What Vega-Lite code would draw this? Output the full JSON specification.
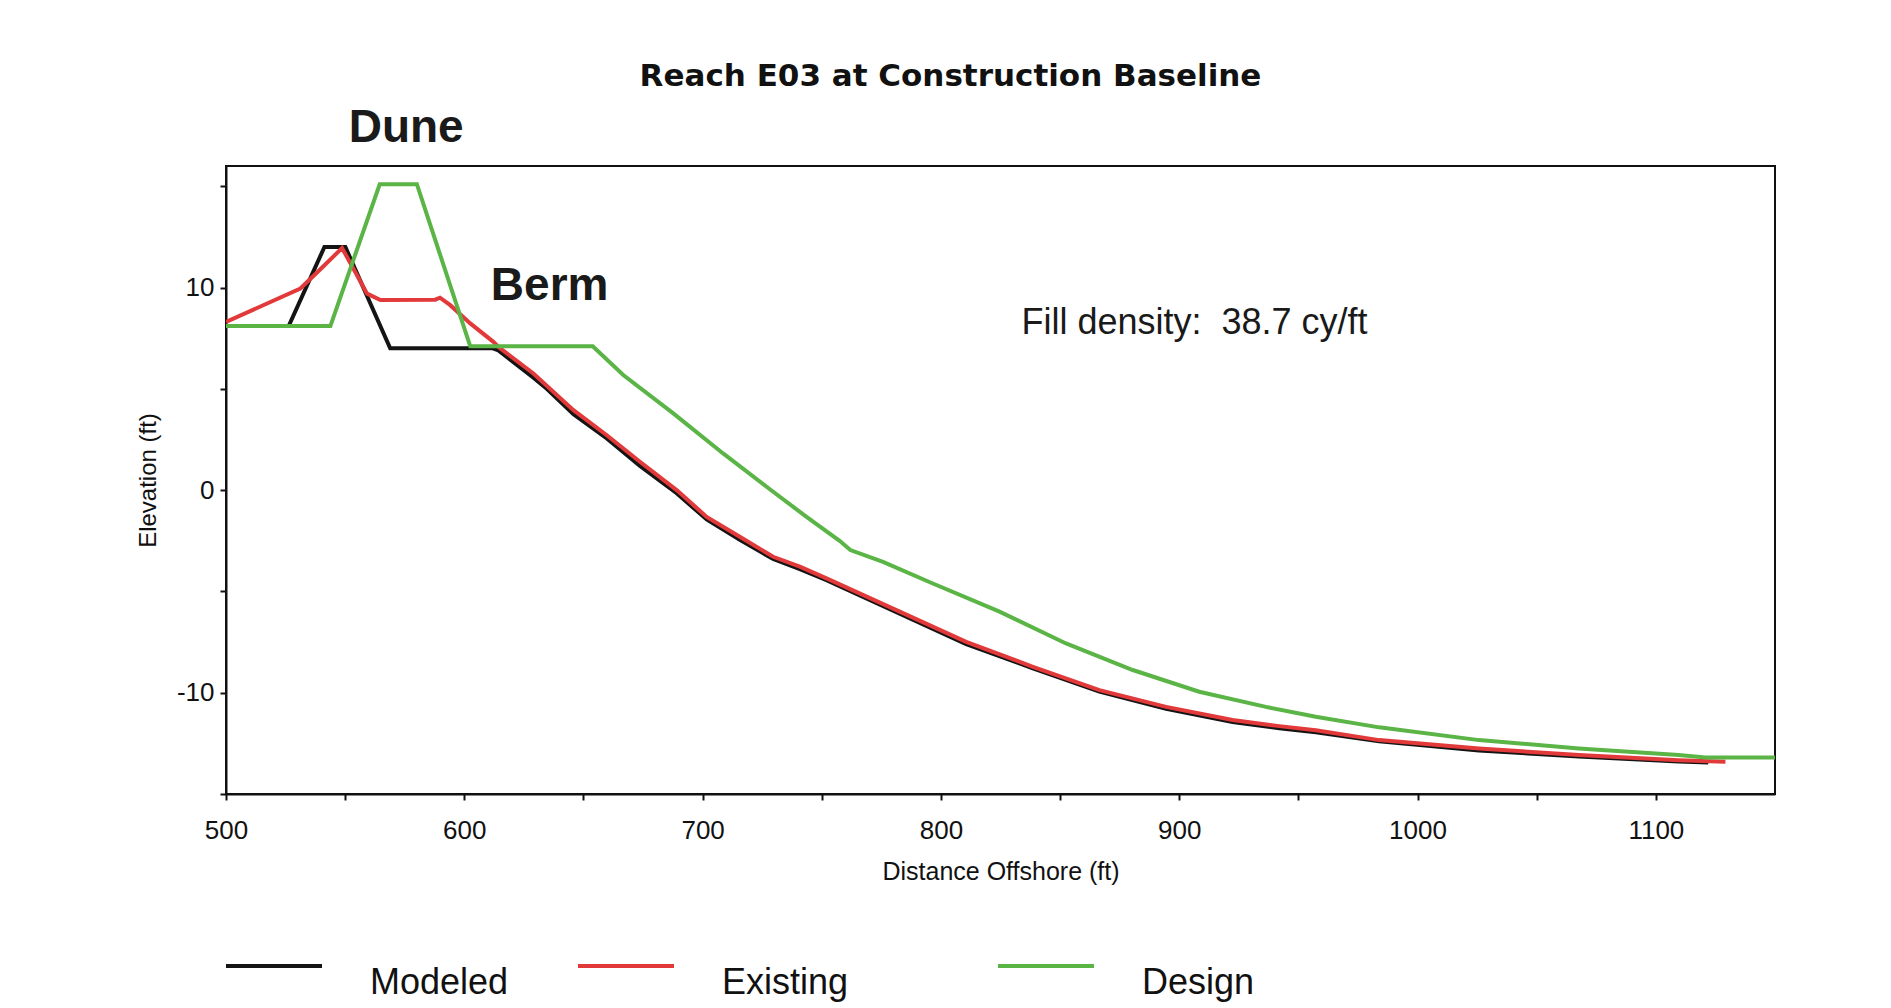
{
  "$schema": "https://vega.github.io/schema/vega-lite/v6.json",
  "width": 1549,
  "height": 628,
  "autosize": {"type": "none"},
  "padding": {"left": 226, "top": 166, "right": 116, "bottom": 214},
  "background": "white",
  "title": {
    "text": "Reach E03 at Construction Baseline",
    "font": "DejaVu Sans",
    "fontSize": 31,
    "fontWeight": "bold",
    "color": "#111111",
    "anchor": "middle",
    "dx": -50,
    "offset": 12
  },
  "config": {
    "view": {"stroke": "#111111", "strokeWidth": 2},
    "axis": {
      "labelFont": "Liberation Sans",
      "titleFont": "Liberation Sans",
      "labelColor": "#111111",
      "titleColor": "#111111",
      "domainColor": "#111111",
      "tickColor": "#111111",
      "domainWidth": 2,
      "tickWidth": 2,
      "grid": false,
      "titleFontWeight": "normal"
    }
  },
  "datasets": {
    "profiles": [
      {"series": "Modeled", "x": 500, "y": 8.1},
      {"series": "Modeled", "x": 526.3, "y": 8.1},
      {"series": "Modeled", "x": 541.3, "y": 12.0},
      {"series": "Modeled", "x": 550.1, "y": 12.0},
      {"series": "Modeled", "x": 568.9, "y": 7.0},
      {"series": "Modeled", "x": 612, "y": 7.0},
      {"series": "Modeled", "x": 614.3, "y": 6.9},
      {"series": "Modeled", "x": 629, "y": 5.55},
      {"series": "Modeled", "x": 634.6, "y": 5.0},
      {"series": "Modeled", "x": 645.8, "y": 3.75},
      {"series": "Modeled", "x": 659.8, "y": 2.55},
      {"series": "Modeled", "x": 673.7, "y": 1.2},
      {"series": "Modeled", "x": 689.1, "y": -0.15},
      {"series": "Modeled", "x": 701.7, "y": -1.45},
      {"series": "Modeled", "x": 715.6, "y": -2.45},
      {"series": "Modeled", "x": 729.6, "y": -3.4},
      {"series": "Modeled", "x": 740.8, "y": -3.9},
      {"series": "Modeled", "x": 752, "y": -4.45},
      {"series": "Modeled", "x": 782.7, "y": -6.1},
      {"series": "Modeled", "x": 810.6, "y": -7.6},
      {"series": "Modeled", "x": 838.6, "y": -8.8},
      {"series": "Modeled", "x": 866.5, "y": -9.95},
      {"series": "Modeled", "x": 894.5, "y": -10.8},
      {"series": "Modeled", "x": 922.4, "y": -11.45},
      {"series": "Modeled", "x": 942, "y": -11.75},
      {"series": "Modeled", "x": 957.3, "y": -11.95},
      {"series": "Modeled", "x": 983.9, "y": -12.4},
      {"series": "Modeled", "x": 1025.8, "y": -12.85},
      {"series": "Modeled", "x": 1067.7, "y": -13.15},
      {"series": "Modeled", "x": 1109.6, "y": -13.4},
      {"series": "Modeled", "x": 1122, "y": -13.45},
      {"series": "Existing", "x": 500, "y": 8.3},
      {"series": "Existing", "x": 531.2, "y": 9.95},
      {"series": "Existing", "x": 539.6, "y": 10.9},
      {"series": "Existing", "x": 548.7, "y": 11.95},
      {"series": "Existing", "x": 553.6, "y": 10.9},
      {"series": "Existing", "x": 559.2, "y": 9.7},
      {"series": "Existing", "x": 564.8, "y": 9.38},
      {"series": "Existing", "x": 587.8, "y": 9.4},
      {"series": "Existing", "x": 589.8, "y": 9.5},
      {"series": "Existing", "x": 594.1, "y": 9.13},
      {"series": "Existing", "x": 602.5, "y": 8.23},
      {"series": "Existing", "x": 612.2, "y": 7.32},
      {"series": "Existing", "x": 614.3, "y": 7.07},
      {"series": "Existing", "x": 629, "y": 5.76},
      {"series": "Existing", "x": 645.8, "y": 3.95},
      {"series": "Existing", "x": 659.8, "y": 2.71},
      {"series": "Existing", "x": 673.7, "y": 1.4},
      {"series": "Existing", "x": 689.1, "y": 0.0},
      {"series": "Existing", "x": 701.7, "y": -1.32},
      {"series": "Existing", "x": 715.6, "y": -2.3},
      {"series": "Existing", "x": 729.6, "y": -3.29},
      {"series": "Existing", "x": 740.8, "y": -3.78},
      {"series": "Existing", "x": 752, "y": -4.36},
      {"series": "Existing", "x": 782.7, "y": -6.0},
      {"series": "Existing", "x": 810.6, "y": -7.49},
      {"series": "Existing", "x": 838.6, "y": -8.72},
      {"series": "Existing", "x": 866.5, "y": -9.87},
      {"series": "Existing", "x": 894.5, "y": -10.7},
      {"series": "Existing", "x": 922.4, "y": -11.35},
      {"series": "Existing", "x": 942, "y": -11.65},
      {"series": "Existing", "x": 957.3, "y": -11.85},
      {"series": "Existing", "x": 983.9, "y": -12.34},
      {"series": "Existing", "x": 1025.8, "y": -12.75},
      {"series": "Existing", "x": 1067.7, "y": -13.08},
      {"series": "Existing", "x": 1109.6, "y": -13.33},
      {"series": "Existing", "x": 1129.2, "y": -13.41},
      {"series": "Design", "x": 500, "y": 8.1},
      {"series": "Design", "x": 543.8, "y": 8.1},
      {"series": "Design", "x": 564.5, "y": 15.1},
      {"series": "Design", "x": 580.1, "y": 15.1},
      {"series": "Design", "x": 602.5, "y": 7.1},
      {"series": "Design", "x": 653.9, "y": 7.1},
      {"series": "Design", "x": 666.7, "y": 5.68},
      {"series": "Design", "x": 687.7, "y": 3.79},
      {"series": "Design", "x": 708.6, "y": 1.81},
      {"series": "Design", "x": 729.6, "y": -0.08},
      {"series": "Design", "x": 743.6, "y": -1.32},
      {"series": "Design", "x": 757.5, "y": -2.5},
      {"series": "Design", "x": 762, "y": -2.96},
      {"series": "Design", "x": 775.7, "y": -3.54},
      {"series": "Design", "x": 796.6, "y": -4.61},
      {"series": "Design", "x": 824.6, "y": -6.0},
      {"series": "Design", "x": 852.5, "y": -7.57},
      {"series": "Design", "x": 880.5, "y": -8.88},
      {"series": "Design", "x": 908.4, "y": -9.95},
      {"series": "Design", "x": 936.4, "y": -10.7},
      {"series": "Design", "x": 957.3, "y": -11.19},
      {"series": "Design", "x": 983.9, "y": -11.71},
      {"series": "Design", "x": 1025.8, "y": -12.34},
      {"series": "Design", "x": 1067.7, "y": -12.75},
      {"series": "Design", "x": 1109.6, "y": -13.08},
      {"series": "Design", "x": 1120.8, "y": -13.2},
      {"series": "Design", "x": 1150, "y": -13.2}
    ],
    "bigLabels": [
      {"label": "Dune", "x": 575.6, "y": 17.18},
      {"label": "Berm", "x": 635.8, "y": 9.38}
    ],
    "note": [
      {"label": "Fill density:\u00a0 38.7 cy/ft", "x": 833.8, "y": 7.7}
    ]
  },
  "layer": [
    {
      "mark": {"type": "rule", "color": "#3c9ee0", "strokeWidth": 2, "strokeDash": [8, 11]},
      "encoding": {"y": {"datum": 0, "type": "quantitative", "scale": {"domain": [-15, 16]}}}
    },
    {
      "data": {"name": "profiles"},
      "mark": {"type": "line", "strokeWidth": 4, "clip": true},
      "encoding": {
        "x": {
          "field": "x",
          "type": "quantitative",
          "scale": {"domain": [500, 1150], "nice": false, "zero": false},
          "axis": {
            "title": "Distance Offshore (ft)",
            "values": [500, 550, 600, 650, 700, 750, 800, 850, 900, 950, 1000, 1050, 1100],
            "labelExpr": "datum.value % 100 == 0 ? datum.value + '' : ''",
            "labelFlush": false,
            "labelFontSize": 26,
            "tickSize": 6,
            "labelPadding": 17,
            "titleFontSize": 25,
            "titlePadding": 16
          }
        },
        "y": {
          "field": "y",
          "type": "quantitative",
          "scale": {"domain": [-15, 16], "nice": false, "zero": false},
          "axis": {
            "title": "Elevation (ft)",
            "values": [-15, -10, -5, 0, 5, 10, 15],
            "labelExpr": "datum.value % 10 == 0 ? datum.value + '' : ''",
            "labelFlush": false,
            "labelFontSize": 26,
            "tickSize": 6,
            "labelPadding": 6,
            "titleFontSize": 24,
            "titlePadding": 16
          }
        },
        "color": {
          "field": "series",
          "type": "nominal",
          "scale": {"domain": ["Modeled", "Existing", "Design"], "range": ["#141414", "#e23a3a", "#5ab446"]},
          "legend": {
            "title": null,
            "orient": "none",
            "legendX": -2,
            "legendY": 750,
            "direction": "horizontal",
            "symbolType": "stroke",
            "symbolSize": 9216,
            "symbolStrokeWidth": 4,
            "labelFont": "Liberation Sans",
            "labelFontSize": 36,
            "labelColor": "#111111",
            "labelOffset": 46,
            "labelLimit": 500,
            "labelBaseline": "top",
            "columnPadding": 61,
            "padding": 0,
            "labelExpr": "datum.label == 'Existing' ? 'Existing\u00a0\u00a0\u00a0\u00a0\u00a0\u00a0\u00a0\u00a0\u200b' : datum.label"
          }
        }
      }
    },
    {
      "data": {"name": "bigLabels"},
      "mark": {"type": "text", "font": "Liberation Sans", "fontSize": 46, "fontWeight": "bold", "color": "#1a1a1a", "align": "center", "baseline": "alphabetic"},
      "encoding": {
        "x": {"field": "x", "type": "quantitative"},
        "y": {"field": "y", "type": "quantitative"},
        "text": {"field": "label"}
      }
    },
    {
      "data": {"name": "note"},
      "mark": {"type": "text", "font": "Liberation Sans", "fontSize": 36, "color": "#1a1a1a", "align": "left", "baseline": "alphabetic"},
      "encoding": {
        "x": {"field": "x", "type": "quantitative"},
        "y": {"field": "y", "type": "quantitative"},
        "text": {"field": "label"}
      }
    }
  ]
}
